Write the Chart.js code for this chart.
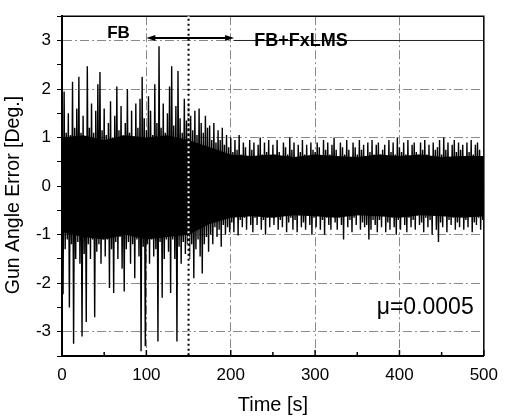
<!DOCTYPE html>
<html>
<head>
<meta charset="utf-8">
<script src="https://cdn.jsdelivr.net/npm/chart.js@4.4.1/dist/chart.umd.min.js"></script>
<style>
  html, body { margin: 0; padding: 0; background: #fff; }
  #wrap { width: 507px; height: 419px; }
</style>
</head>
<body>
<div id="wrap"><canvas id="myChart"></canvas></div>
<script>
//data: positive and negative peaks of the trace, read every 2.5 s (negative peak half a step later)
const step = 2.5;
const upperPeaks = [
  1.75, 1.95, 1.1, 1.5, 1.05, 2.15, 1.2, 1.6, 2.25, 1.1,
  1.45, 1.0, 2.47, 1.2, 1.7, 1.1, 1.55, 2.1, 2.35, 1.15,
  1.6, 1.05, 1.3, 1.75, 1.0, 1.45, 2.05, 1.15, 1.65, 1.05,
  1.3, 2.0, 1.1, 1.55, 1.0, 1.7, 1.2, 1.8, 2.25, 1.4,
  1.15, 1.85, 1.55, 1.05, 2.1, 1.3, 2.88, 1.2, 1.7, 1.1,
  1.5, 2.05, 2.47, 1.25, 1.65, 2.37, 1.4, 1.1, 1.8, 1.35,
  1.7, 1.45, 1.15, 1.55, 1.05, 1.6, 1.3, 1.1, 1.45, 1.2,
  1.25, 0.95, 1.3, 0.9, 1.15, 0.95, 1.2, 0.85, 1.05, 0.8,
  1.0, 0.7, 0.95, 0.75, 1.05, 0.65, 0.9, 0.8, 0.6, 0.95,
  0.75, 0.9, 0.6, 0.85, 1.0, 0.65, 0.9, 0.7, 0.95, 0.6,
  0.85, 0.65, 0.95, 0.7, 0.6, 0.9, 0.8, 0.65, 1.0, 0.75,
  0.9, 0.6, 0.85, 0.7, 0.95, 0.65, 0.85, 0.6, 0.9, 0.75,
  0.7, 0.9, 0.8, 0.6, 0.95, 0.75, 0.9, 0.65, 0.85, 1.0,
  0.75, 0.6, 0.9, 0.8, 0.65, 0.95, 0.75, 0.6, 0.9, 0.8,
  0.65, 0.95, 0.75, 0.85, 0.6, 0.9, 0.7, 0.95, 0.65, 0.85,
  0.9, 0.65, 0.75, 0.85, 0.6, 0.95, 0.7, 0.9, 0.65, 1.0,
  0.8, 0.7, 0.9, 0.65, 0.95, 0.6, 0.85, 0.9, 0.7, 0.65,
  0.9, 0.75, 0.95, 0.65, 0.85, 0.6, 0.9, 0.75, 0.8, 0.95,
  0.65, 1.0, 0.75, 0.9, 0.6, 0.85, 0.95, 0.7, 0.9, 0.75,
  0.85, 0.6, 0.9, 0.7, 0.95, 0.65, 0.85, 0.9, 0.75, 0.6
];
const lowerPeaks = [
  -2.23, -1.3, -1.1, -2.5, -1.2, -3.25, -1.5, -1.15, -1.6, -3.1,
  -1.4, -2.8, -1.2, -1.5, -1.1, -2.7, -1.35, -1.2, -1.6, -1.1,
  -1.45, -1.1, -2.1, -1.3, -2.2, -1.15, -1.5, -1.05, -1.7, -2.17,
  -1.3, -1.15, -1.6, -1.2, -1.9, -1.1, -1.45, -3.4, -1.25, -3.3,
  -1.2, -1.6, -1.1, -1.45, -1.3, -3.2, -1.15, -2.3, -1.5, -1.1,
  -1.35, -2.2, -1.1, -1.5, -3.2, -1.25, -1.6, -1.15, -1.4, -1.2,
  -1.5, -1.2, -1.9, -1.3, -1.1, -1.45, -1.8, -1.2, -1.05, -1.35,
  -1.0, -1.2, -0.85, -1.05, -0.9, -1.25, -0.8, -1.0, -0.85, -0.95,
  -0.75, -0.95, -0.6, -1.02, -0.7, -0.85, -0.65, -0.9, -0.6, -0.8,
  -0.95, -0.65, -0.8, -0.6, -0.9, -0.7, -1.0, -0.65, -0.85, -0.6,
  -0.8, -0.6, -0.9, -0.7, -0.85, -0.6, -0.95, -0.75, -0.65, -0.9,
  -0.7, -0.95, -0.6, -0.85, -0.75, -0.9, -0.6, -0.8, -1.0, -0.65,
  -0.85, -0.6, -0.9, -0.7, -1.0, -0.65, -0.8, -0.9, -0.6, -0.75,
  -0.9, -0.65, -0.8, -1.1, -0.6, -0.85, -0.7, -0.95, -0.65, -0.8,
  -0.6, -0.9, -0.75, -0.85, -0.8, -1.1, -0.9, -0.7, -0.8, -0.95,
  -0.7, -0.85, -0.6, -0.95, -0.75, -0.9, -0.65, -0.85, -1.0, -0.7,
  -0.9, -0.6, -0.8, -0.95, -0.65, -0.85, -0.7, -0.9, -0.6, -0.8,
  -0.75, -0.95, -0.65, -0.85, -0.7, -1.0, -0.6, -0.9, -1.15, -0.75,
  -0.85, -0.6, -0.95, -0.7, -0.8, -0.65, -0.9, -0.75, -0.85, -0.6,
  -0.9, -0.7, -0.85, -0.6, -0.95, -0.75, -0.8, -0.65, -0.9, -0.7
];
//solid dark core of the trace, read every 25 s
const coreTimes = [0, 25, 50, 75, 100, 125, 150, 175, 200, 225, 250, 275, 300, 325, 350, 375, 400, 425, 450, 475, 500];
const coreUpper = [1.0, 1.05, 0.95, 1.05, 1.0, 1.05, 0.95, 0.8, 0.65, 0.62, 0.65, 0.6, 0.65, 0.62, 0.6, 0.65, 0.62, 0.65, 0.6, 0.62, 0.62];
const coreLower = [-0.95, -1.05, -1.1, -1.0, -1.1, -1.05, -1.0, -0.78, -0.65, -0.62, -0.65, -0.6, -0.62, -0.65, -0.6, -0.62, -0.65, -0.6, -0.62, -0.65, -0.62];

const xTickLabels = [0, 100, 200, 300, 400, 500];
const yTickLabels = [-3, -2, -1, 0, 1, 2, 3];

//annotations
const switchTime = 150;
const arrowFrom = 100;
const arrowTo = 204;
const arrowLevel = 3.05;
const muText = 'μ=0.0005';
const yTitle = 'Gun Angle Error [Deg.]';

const FONT = '"Liberation Sans", Arial, Helvetica, sans-serif';

const trace = [];
upperPeaks.forEach((u, i) => {
    trace.push({x: i * step, y: u});
    trace.push({x: i * step + step / 2, y: lowerPeaks[i]});
});

const extras = {
    id: 'extras',
    afterDatasetsDraw(chart) {
        const {ctx, chartArea: a, scales: {x, y}} = chart;
        ctx.save();

        //top and right frame
        ctx.strokeStyle = '#000';
        ctx.lineWidth = 1.5;
        ctx.beginPath();
        ctx.moveTo(a.left, a.top);
        ctx.lineTo(a.right, a.top);
        ctx.lineTo(a.right, a.bottom);
        ctx.stroke();

        //inside ticks on the time axis
        for (let v = 0; v <= 500; v += 50) {
            const px = x.getPixelForValue(v);
            ctx.beginPath();
            ctx.moveTo(px, a.bottom);
            ctx.lineTo(px, a.bottom - (v % 100 ? 4 : 6));
            ctx.stroke();
        }

        //switch-on line
        const sx = x.getPixelForValue(switchTime);
        ctx.lineWidth = 2;
        ctx.strokeStyle = '#fff';
        ctx.beginPath();
        ctx.moveTo(sx, a.top);
        ctx.lineTo(sx, a.bottom);
        ctx.setLineDash([2, 3]);
        ctx.stroke();
        ctx.lineDashOffset = 2.5;
        ctx.strokeStyle = '#000';
        ctx.stroke();
        ctx.setLineDash([]);

        //double arrow
        const ay = y.getPixelForValue(arrowLevel);
        const x1 = x.getPixelForValue(arrowFrom);
        const x2 = x.getPixelForValue(arrowTo);
        ctx.lineWidth = 2;
        ctx.beginPath();
        ctx.moveTo(x1 + 4, ay);
        ctx.lineTo(x2 - 4, ay);
        ctx.stroke();
        ctx.fillStyle = '#000';
        ctx.beginPath();
        ctx.moveTo(x1, ay); ctx.lineTo(x1 + 9, ay - 3); ctx.lineTo(x1 + 9, ay + 3); ctx.closePath();
        ctx.moveTo(x2, ay); ctx.lineTo(x2 - 9, ay - 3); ctx.lineTo(x2 - 9, ay + 3); ctx.closePath();
        ctx.fill();

        //line to the right label
        ctx.lineWidth = 1;
        ctx.strokeStyle = '#222';
        ctx.beginPath();
        ctx.moveTo(x2, y.getPixelForValue(3));
        ctx.lineTo(a.right, y.getPixelForValue(3));
        ctx.stroke();

        //texts
        ctx.fillStyle = '#000';
        ctx.textBaseline = 'middle';
        ctx.font = 'bold 17px ' + FONT;
        ctx.textAlign = 'center';
        ctx.fillText('FB', x.getPixelForValue(67), y.getPixelForValue(3.14));
        ctx.font = 'bold 18px ' + FONT;
        ctx.textAlign = 'left';
        ctx.fillText('FB+FxLMS', x.getPixelForValue(228), y.getPixelForValue(2.98));

        ctx.font = '23px ' + FONT;
        ctx.textAlign = 'right';
        ctx.fillText(muText, x.getPixelForValue(488), y.getPixelForValue(-2.5));

        //y axis title
        ctx.font = '19.5px ' + FONT;
        ctx.textAlign = 'center';
        ctx.translate(14, (a.top + a.bottom) / 2 + 9);
        ctx.rotate(-Math.PI / 2);
        ctx.fillText(yTitle, 0, 0);
        ctx.restore();
    }
};

const gridDash = [9, 3, 2, 3];
const gridColor = '#8a8a8a';
const none = 'rgba(0,0,0,0)';

const ctx = document.getElementById('myChart').getContext('2d');
const chart = new Chart(ctx, {
    type: 'line',
    data: {
        datasets: [
            {
                label: 'Gun angle error',
                data: trace,
                borderColor: '#000',
                borderWidth: 1.4,
                pointRadius: 0,
                tension: 0,
                fill: false,
                order: 0
            },
            {
                label: 'core upper',
                data: coreTimes.map((t, i) => ({x: t, y: coreUpper[i]})),
                borderWidth: 0,
                borderColor: none,
                backgroundColor: '#000',
                pointRadius: 0,
                tension: 0,
                fill: '+1',
                order: 1
            },
            {
                label: 'core lower',
                data: coreTimes.map((t, i) => ({x: t, y: coreLower[i]})),
                borderWidth: 0,
                borderColor: none,
                pointRadius: 0,
                tension: 0,
                fill: false,
                order: 2
            }
        ]
    },
    options: {
        responsive: true, maintainAspectRatio: false,
        animation: false,
        layout: {padding: {top: 10, right: 15, left: 0, bottom: 0}},
        plugins: {
            legend: {display: false},
            tooltip: {enabled: false}
        },
        scales: {
            x: {
                type: 'linear', min: 0, max: 500,
                afterFit: s => { s.height = 63; },
                border: {color: '#000', width: 2, dash: gridDash},
                grid: {
                    drawTicks: false,
                    color: c => (c.tick && c.tick.value > 0 && c.tick.value < 500) ? gridColor : none,
                    lineWidth: 1
                },
                ticks: {
                    stepSize: 100, padding: 9, color: '#000',
                    font: {family: FONT, size: 17},
                    maxRotation: 0,
                    callback: v => xTickLabels.includes(v) ? String(v) : ''
                },
                title: {display: true, text: 'Time [s]', color: '#000', font: {family: FONT, size: 20}, padding: {top: 0, bottom: 2}}
            },
            y: {
                min: -3.5, max: 3.5,
                afterFit: s => { s.width = 62; },
                border: {color: '#000', width: 2, dash: gridDash},
                grid: {
                    tickLength: 5,
                    tickColor: '#000',
                    tickBorderDash: [],
                    color: c => (c.tick && Number.isInteger(c.tick.value) && Math.abs(c.tick.value) < 3.5) ? gridColor : none,
                    lineWidth: 1
                },
                ticks: {
                    stepSize: 0.5, padding: 6, color: '#000',
                    font: {family: FONT, size: 17},
                    callback: v => yTickLabels.includes(v) ? String(v) : ''
                }
            }
        }
    },
    plugins: [extras]
});
</script>
</body>
</html>
